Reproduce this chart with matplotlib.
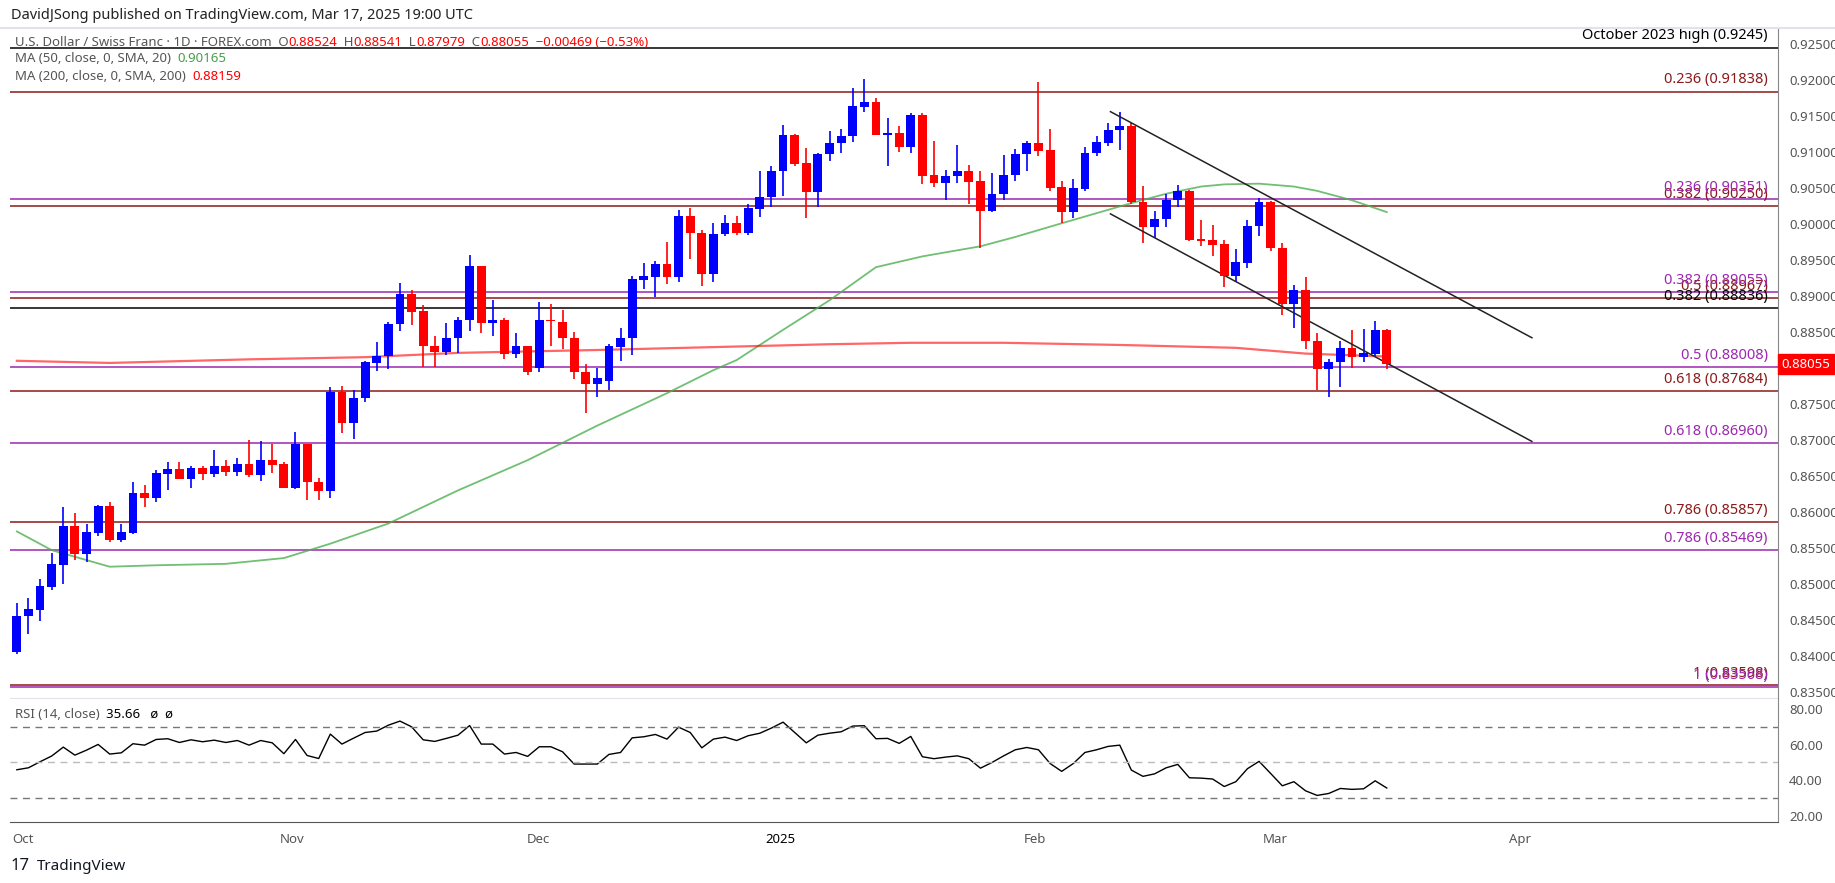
import matplotlib
matplotlib.use("Agg")
import matplotlib.pyplot as plt
import matplotlib.transforms as mtrans
import numpy as np

plt.rcParams['font.family'] = 'Noto Sans'

# daily USD/CHF candles, Sep 30 2024 .. Mar 17 2025 (bar index 0..118)
opens = [.8405, .8455, .8464, .8496, .8526, .8581, .8542, .8571, .8608, .8561,
         .8571, .8626, .8620, .8653, .8660, .8646, .8661, .8653, .8664, .8656,
         .8667, .8651, .8672, .8667, .8634, .8695, .8641, .8629, .8767, .8724,
         .8758, .8807, .8816, .8861, .8903, .8879, .8830, .8822, .8841, .8866,
         .8942, .8863, .8867, .8819, .8831, .8800, .8866, .8864, .8842, .8795,
         .8778, .8782, .8829, .8842, .8922, .8927, .8944, .8927, .9011, .8987,
         .8930, .8986, .9002, .8988, .9021, .9037, .9073, .9124, .9085, .9045,
         .9097, .9112, .9122, .9163, .9170, .9123, .9126, .9107, .9151, .9068,
         .9057, .9066, .9074, .9060, .9018, .9041, .9068, .9097, .9113, .9103,
         .9051, .9016, .9049, .9098, .9113, .9130, .9136, .9031, .8996, .9007,
         .9034, .9046, .8979, .8978, .8972, .8928, .8946, .8997, .9031, .8967,
         .8889, .8908, .8837, .8798, .8808, .8828, .8815, .8820, .88524]
highs = [.8474, .8481, .8507, .8543, .8607, .8598, .8584, .8610, .8614, .8584,
         .8642, .8637, .8658, .8669, .8669, .8664, .8664, .8686, .8672, .8675,
         .8700, .8699, .8694, .8670, .8711, .8695, .8647, .8773, .8775, .8769,
         .8810, .8836, .8864, .8918, .8908, .8887, .8844, .8862, .8871, .8957,
         .8942, .8894, .8869, .8848, .8831, .8891, .8889, .8880, .8850, .8805,
         .8800, .8833, .8855, .8928, .8946, .8949, .8975, .9020, .9022, .8992,
         .9001, .9013, .9011, .9028, .9074, .9081, .9138, .9125, .9106, .9099,
         .9129, .9132, .9189, .9201, .9175, .9147, .9136, .9154, .9154, .9115,
         .9075, .9110, .9082, .9074, .9071, .9096, .9104, .9115, .9197, .9132,
         .9060, .9062, .9107, .9122, .9140, .9156, .9140, .9053, .9018, .9042,
         .9054, .9047, .9006, .8999, .8978, .8965, .9006, .9036, .9032, .8974,
         .8915, .8926, .8848, .8812, .8837, .8853, .8854, .8865, .88541]
lows = [.8403, .8430, .8449, .8491, .8500, .8534, .8530, .8566, .8559, .8559,
        .8569, .8607, .8614, .8630, .8646, .8634, .8645, .8648, .8650, .8650,
        .8648, .8643, .8654, .8634, .8632, .8616, .8616, .8620, .8710, .8702,
        .8753, .8796, .8798, .8852, .8860, .8802, .8802, .8818, .8821, .8852,
        .8849, .8844, .8812, .8814, .8790, .8795, .8830, .8827, .8785, .8737,
        .8760, .8770, .8810, .8818, .8910, .8899, .8916, .8919, .8952, .8914,
        .8920, .8983, .8985, .8985, .9010, .9024, .9039, .9080, .9009, .9023,
        .9088, .9099, .9114, .9155, .9123, .9080, .9100, .9098, .9056, .9052,
        .9034, .9057, .9028, .8966, .9016, .9033, .9060, .9073, .9094, .9046,
        .9001, .9009, .9046, .9095, .9108, .9103, .9028, .8973, .8981, .8996,
        .9023, .8977, .8969, .8955, .8913, .8920, .8939, .8984, .8962, .8873,
        .8856, .8826, .8769, .8760, .8774, .8800, .8808, .8816, .87979]
closes = [.8455, .8465, .8497, .8528, .8581, .8542, .8572, .8608, .8561, .8572,
          .8626, .8620, .8654, .8660, .8646, .8661, .8653, .8664, .8656, .8667,
          .8651, .8672, .8665, .8634, .8695, .8641, .8629, .8767, .8724, .8758,
          .8808, .8817, .8861, .8903, .8878, .8830, .8822, .8842, .8867, .8942,
          .8863, .8867, .8819, .8831, .8795, .8866, .8865, .8841, .8795, .8778,
          .8786, .8830, .8842, .8924, .8928, .8944, .8927, .9011, .8987, .8930,
          .8986, .9002, .8988, .9022, .9037, .9074, .9124, .9083, .9045, .9097,
          .9113, .9122, .9164, .9170, .9123, .9126, .9107, .9151, .9067, .9057,
          .9066, .9074, .9059, .9018, .9042, .9068, .9097, .9113, .9102, .9050,
          .9016, .9050, .9099, .9114, .9131, .9136, .9030, .8996, .9007, .9034,
          .9046, .8978, .8977, .8971, .8928, .8947, .8997, .9031, .8966, .8889,
          .8908, .8837, .8798, .8808, .8828, .8815, .8821, .8853, .88055]

# moving averages read at sample bars
ma50_idx = [0, 3, 8, 12, 18, 23, 27, 32, 38, 44, 50, 56, 60, 62, 66, 70, 74, 78,
            83, 86, 90, 96, 99, 102, 104, 107, 110, 112, 115, 118]
ma50_val = [.8573, .8547, .8524, .8526, .8528, .8536, .8556, .8584, .8630, .8672,
            .8720, .8765, .8797, .8811, .8853, .8894, .8940, .8955, .8969, .8982,
            .9001, .9029, .9042, .9052, .9055, .9056, .9052, .9046, .9033, .90165]
ma200_idx = [0, 8, 20, 30, 38, 50, 60, 70, 77, 85, 95, 105, 111, 118]
ma200_val = [.8810, .8807, .8812, .8815, .8821, .8825, .8829, .8833, .8835, .8835,
             .8832, .8828, .8820, .88159]

rsi = [45.9, 47.0, 50.4, 53.6, 58.6, 54.1, 56.9, 60.1, 54.7, 55.4,
       60.5, 59.7, 62.9, 63.3, 61.2, 62.7, 61.6, 62.5, 61.2, 62.3,
       59.7, 62.3, 61.0, 54.9, 62.9, 53.9, 52.2, 65.9, 60.3, 63.6,
       66.8, 67.6, 70.9, 73.2, 70.0, 62.7, 61.8, 63.5, 65.3, 70.7,
       60.3, 60.3, 54.7, 55.6, 53.4, 58.8, 58.8, 56.0, 49.1, 49.1,
       49.1, 54.5, 55.6, 63.8, 64.4, 65.7, 63.1, 69.8,
       66.8, 58.2, 63.1, 64.2, 62.3, 65.0, 66.4, 69.3, 72.6, 66.8,
       61.0, 65.3, 66.4, 67.2, 70.4, 70.6, 63.3, 63.5, 60.7, 64.6,
       53.2, 52.1, 53.0, 53.7, 52.1, 46.8, 50.0, 53.7, 57.1, 58.4,
       57.1, 49.4, 45.0, 49.4, 55.6, 57.1, 59.0, 59.7, 45.7, 42.2,
       43.6, 47.0, 48.9, 41.4, 41.2, 40.7, 36.5, 39.2, 46.5, 50.6,
       43.8, 36.9, 39.2, 34.1, 31.5, 32.6, 35.4, 34.9, 35.2, 39.7, 35.66]

# fibonacci levels (label, value)
fib_red = [("0.236", 0.91838), ("0.382", 0.90250), ("0.5", 0.88967),
           ("0.618", 0.87684), ("0.786", 0.85857), ("1", 0.83598)]
fib_purple = [("0.236", 0.90351), ("0.382", 0.89055), ("0.5", 0.88008),
              ("0.618", 0.86960), ("0.786", 0.85469), ("1", 0.83568)]
fib_black = [("0.382", 0.88836)]
oct_high = 0.9245

# channel lines (bar, price)
chan_upper = [(94.2, 0.9156), (130.5, 0.8842)]
chan_lower = [(94.2, 0.9014), (130.5, 0.8698)]

month_pos = [0.5, 23.7, 44.9, 65.8, 87.7, 108.4, 129.5]
month_lab = ["Oct", "Nov", "Dec", "2025", "Feb", "Mar", "Apr"]

RED = "#ff0000"
BLUE = "#0000ff"
FRED = "#8b1a1a"
FPUR = "#9c27b0"
GRAY = "#555555"

fig = plt.figure(figsize=(18.35, 8.83), dpi=100)
ax = fig.add_axes([0.00545, 0.2084, 0.9635, 0.7599])
axr = fig.add_axes([0.00545, 0.0691, 0.9635, 0.1393], sharex=ax)

x = np.arange(len(closes))
o = np.array(opens); c = np.array(closes)
h = np.array(highs); l = np.array(lows)
col = np.where(c >= o, BLUE, RED)
ax.vlines(x, l, h, colors=col, lw=1.2, zorder=3)
body = np.maximum(np.abs(c - o), 0.00008)
ax.bar(x, body, bottom=np.minimum(o, c), width=0.76, color=col, zorder=4)

ax.plot(ma50_idx, ma50_val, color="#4caf50", lw=1.3, alpha=0.8, zorder=2)
ax.plot(ma200_idx, ma200_val, color=RED, lw=1.6, alpha=0.6, zorder=2)

lab_x = 150.8
def hline(v, color, text):
    ax.axhline(v, color=color, lw=1.1, zorder=1)
    ax.annotate(text, xy=(lab_x, v), xytext=(0, 3), textcoords="offset points",
                ha="right", va="bottom", color=color, fontsize=10.5, zorder=5)

hline(oct_high, "black", "October 2023 high (0.9245)")
for n, v in fib_red:
    hline(v, FRED, f"{n} ({v:.5f})")
for n, v in fib_purple:
    hline(v, FPUR, f"{n} ({v:.5f})")
for n, v in fib_black:
    hline(v, "black", f"{n} ({v:.5f})")

for seg in (chan_upper, chan_lower):
    ax.plot([p[0] for p in seg], [p[1] for p in seg], color="#222222", lw=1.1, zorder=3)

ax.set_xlim(-0.59, 151.7)
ax.set_ylim(0.83403, 0.92722)
ticks = np.arange(0.835, 0.9251, 0.005)
ax.yaxis.tick_right()
ax.set_yticks(ticks)
ax.set_yticklabels([f"{t:.5f}" for t in ticks])
ax.tick_params(axis="y", length=0, colors=GRAY, labelsize=9.5, pad=8)
ax.tick_params(axis="x", length=0, labelbottom=False)
for s in ("top", "left", "bottom"):
    ax.spines[s].set_visible(False)
ax.spines["right"].set_color("#888888")
ax.axhline(0.83403, color="#e0e3eb", lw=1.5)

# last price tag
tr = mtrans.blended_transform_factory(ax.transAxes, ax.transData)
ax.text(1.002, closes[-1], f"{closes[-1]:.5f}", transform=tr, ha="left", va="center",
        color="white", fontsize=9.5, fontweight="bold",
        bbox=dict(boxstyle="square,pad=0.3", fc=RED, ec=RED), zorder=6, clip_on=False)

# RSI panel
axr.plot(x, rsi, color="black", lw=1.0)
for lv, cl in ((70, "#777777"), (50, "#bbbbbb"), (30, "#777777")):
    axr.axhline(lv, color=cl, lw=1.0, ls=(0, (5, 4)))
axr.set_ylim(16.6, 85.6)
axr.yaxis.tick_right()
axr.set_yticks([20, 40, 60, 80])
axr.set_yticklabels(["20.00", "40.00", "60.00", "80.00"])
axr.tick_params(axis="y", length=0, colors=GRAY, labelsize=9.5, pad=8)
axr.set_xticks(month_pos)
axr.set_xticklabels(month_lab)
axr.tick_params(axis="x", length=0, colors=GRAY, labelsize=9.5, pad=8)
for t in axr.get_xticklabels():
    if t.get_text() == "2025":
        t.set_color("black"); t.set_fontweight("bold")
for s in ("top", "left"):
    axr.spines[s].set_visible(False)
axr.spines["right"].set_color("#888888")
axr.spines["bottom"].set_color("#555555")

rend = fig.canvas.get_renderer()

def row(x0, y, parts, size):
    # lay text pieces out one after another
    xpos = x0
    for txt, cl in parts:
        t = fig.text(xpos, y, txt, fontsize=size, color=cl, va="center")
        xpos = t.get_window_extent(rend).x1 / fig.bbox.width

row(0.008, 1 - 714 / 883, [("RSI (14, close)  ", GRAY), ("35.66   \u00f8  \u00f8", "black")], 9.5)

# header
fig.text(0.006, 0.983, "DavidJSong published on TradingView.com, Mar 17, 2025 19:00 UTC",
         fontsize=10.5, color="#222222", va="center")
fig.add_artist(plt.Line2D([0, 1], [0.968, 0.968], color="#e0e3eb", lw=1.5,
                          transform=fig.transFigure))

row(0.008, 1 - 42 / 883,
    [("U.S. Dollar / Swiss Franc \u00b7 1D \u00b7 FOREX.com  O", GRAY),
     ("0.88524", RED), ("  H", GRAY), ("0.88541", RED), ("  L", GRAY),
     ("0.87979", RED), ("  C", GRAY), ("0.88055", RED),
     ("  \u22120.00469 (\u22120.53%)", RED)], 9.5)
row(0.008, 1 - 59 / 883, [("MA (50, close, 0, SMA, 20)  ", GRAY), ("0.90165", "#43a047")], 9.5)
row(0.008, 1 - 76 / 883, [("MA (200, close, 0, SMA, 200)  ", GRAY), ("0.88159", RED)], 9.5)

# footer logo
fig.text(0.006, 0.019, "17", fontsize=12, color="#131722", va="center", fontweight="bold")
fig.text(0.020, 0.019, "TradingView", fontsize=11, color="#131722", va="center", fontweight="bold")

fig.savefig("out.png", dpi=100)
